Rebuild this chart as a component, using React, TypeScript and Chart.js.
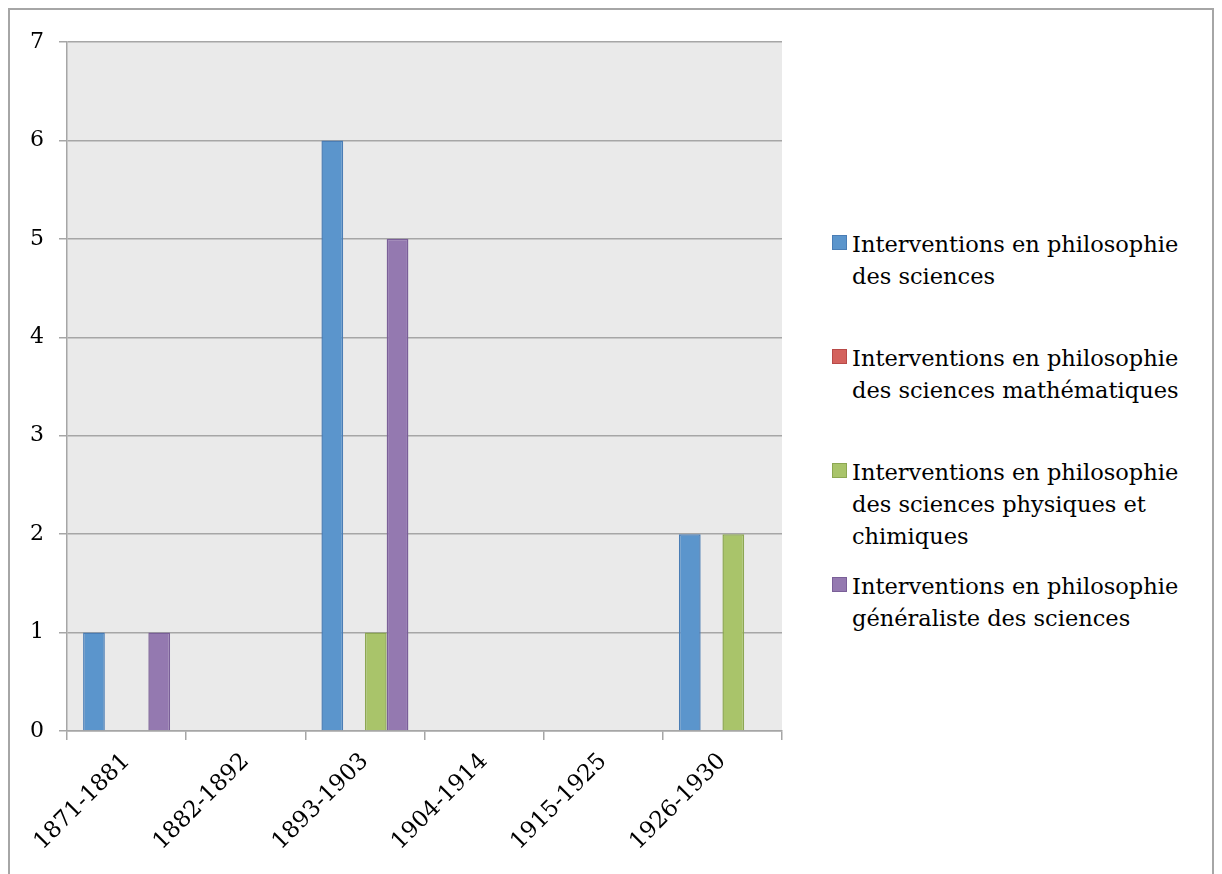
import React, { useEffect, useRef } from "react";
import { Chart, registerables } from "chart.js";

Chart.register(...registerables);

const categories = ["1871-1881", "1882-1892", "1893-1903", "1904-1914", "1915-1925", "1926-1930"];
const seriesLabels = [
  ["Interventions en philosophie", "des sciences"],
  ["Interventions en philosophie", "des sciences mathématiques"],
  ["Interventions en philosophie", "des sciences physiques et", "chimiques"],
  ["Interventions en philosophie", "généraliste des sciences"],
];
const sciences = [1, 0, 6, 0, 0, 2];
const mathematiques = [0, 0, 0, 0, 0, 0];
const physiquesChimiques = [0, 0, 1, 0, 0, 2];
const generaliste = [1, 0, 5, 0, 0, 0];
const yTicks = [0, 1, 2, 3, 4, 5, 6, 7];

const fills = ["#5B95CC", "#D4625D", "#A9C46A", "#9479B0"];
const borders = ["#4A7DB5", "#B84A48", "#8CA752", "#7A5F98"];
const FONT = "'DejaVu Serif', serif";

export default function App() {
  const ref = useRef<HTMLCanvasElement | null>(null);
  useEffect(() => {
    document.documentElement.style.overflow = "hidden";
    document.body.style.overflow = "hidden";
    if (!ref.current) return;
    const values = [sciences, mathematiques, physiquesChimiques, generaliste];
    const bgPlugin = {
      id: "plotBg",
      beforeDraw(chart: any) {
        const { ctx, chartArea } = chart;
        ctx.save();
        ctx.fillStyle = "#EAEAEA";
        ctx.fillRect(chartArea.left, chartArea.top, chartArea.right - chartArea.left, chartArea.bottom - chartArea.top);
        ctx.restore();
      },
    };
    const chart = new Chart(ref.current, {
      type: "bar",
      data: {
        labels: categories,
        datasets: values.map((v, i) => ({
          label: seriesLabels[i].join(" "),
          data: v,
          backgroundColor: fills[i],
          borderColor: borders[i],
          borderWidth: 1.5,
          barPercentage: 1,
          categoryPercentage: 0.73,
        })),
      },
      options: {
        animation: false,
        responsive: false,
        devicePixelRatio: 1,
        layout: { padding: { top: 32, right: 18, left: 0, bottom: 0 } },
        plugins: { legend: { display: false }, tooltip: { enabled: false } },
        scales: {
          x: {
            afterFit(scale: any) {
              scale.height = 143;
            },
            grid: {
              offset: true,
              drawOnChartArea: false,
              drawTicks: true,
              tickLength: 9,
              color: "#A6A6A6",
              lineWidth: 1.5,
            },
            border: { display: true, color: "#A6A6A6", width: 1.5 },
            ticks: {
              color: "#000",
              font: { family: FONT, size: 23 },
              maxRotation: 45,
              minRotation: 45,
              padding: 8,
              autoSkip: false,
            },
          },
          y: {
            min: 0,
            max: 7,
            afterFit(scale: any) {
              scale.width = 57;
            },
            afterBuildTicks(scale: any) {
              scale.ticks = yTicks.map((v) => ({ value: v }));
            },
            grid: { color: "#A6A6A6", lineWidth: 1.5, tickLength: 8, drawTicks: true },
            border: { display: true, color: "#A6A6A6", width: 1.5 },
            ticks: { color: "#000", font: { family: FONT, size: 22 }, padding: 15 },
          },
        },
      },
      plugins: [bgPlugin],
    });
    return () => chart.destroy();
  }, []);

  return (
    <div
      style={{
        position: "relative",
        boxSizing: "border-box",
        width: 1206,
        height: 866,
        borderTop: "2px solid #A6A6A6",
        borderLeft: "2px solid #A6A6A6",
        borderRight: "2px solid #A6A6A6",
        background: "#fff",
        overflow: "hidden",
      }}
    >
      <canvas ref={ref} width={790} height={864} style={{ position: "absolute", left: 0, top: 0, width: 790, height: 864 }} />
      {seriesLabels.map((lines, i) => (
        <div
          key={i}
          style={{
            position: "absolute",
            left: 822,
            top: 218 + i * 114,
            display: "flex",
            alignItems: "flex-start",
          }}
        >
          <div
            style={{
              width: 13,
              height: 13,
              marginTop: 7,
              background: fills[i],
              border: `1.5px solid ${borders[i]}`,
              marginRight: 5,
              flex: "none",
            }}
          />
          <div style={{ fontFamily: FONT, fontSize: 22.5, lineHeight: "32px", color: "#000", whiteSpace: "nowrap" }}>
            {lines.map((l, j) => (
              <div key={j}>{l}</div>
            ))}
          </div>
        </div>
      ))}
    </div>
  );
}
